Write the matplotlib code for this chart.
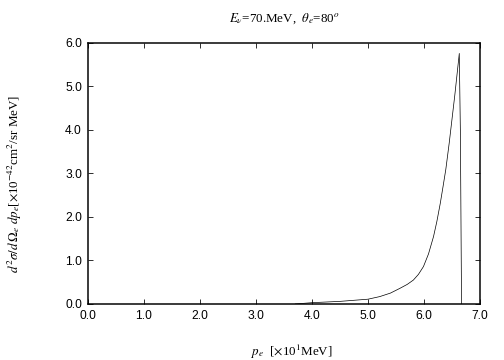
import matplotlib
matplotlib.use("Agg")
import matplotlib.pyplot as plt
from matplotlib.ticker import FormatStrFormatter

# electron momentum [x10 MeV] and cross section [x10^-42 cm^2/sr MeV]
p_e = [3.70, 4.00, 4.50, 5.00, 5.21, 5.40, 5.57, 5.70, 5.81, 5.90, 5.99,
       6.08, 6.17, 6.23, 6.29, 6.34, 6.39, 6.45, 6.50, 6.55, 6.60, 6.63,
       6.65, 6.67]
xsec = [0.00, 0.03, 0.06, 0.11, 0.17, 0.25, 0.36, 0.45, 0.55, 0.68, 0.86,
        1.15, 1.55, 1.90, 2.31, 2.70, 3.10, 3.70, 4.25, 4.80, 5.40, 5.76,
        3.90, 0.00]

plt.rcParams['mathtext.fontset'] = 'stix'
serif = ['Liberation Serif', 'DejaVu Serif']
sans = ['Liberation Sans', 'DejaVu Sans']

fig = plt.figure(figsize=(7, 5), dpi=72)
ax = fig.add_axes([0.1746, 0.1556, 0.9524 - 0.1746, 0.8806 - 0.1556])

ax.plot(p_e, xsec, color='black', lw=0.7)

ax.set_xlim(0, 7)
ax.set_ylim(0, 6)
ax.set_xticks(range(0, 8))
ax.set_yticks(range(0, 7))
ax.xaxis.set_major_formatter(FormatStrFormatter('%.1f'))
ax.yaxis.set_major_formatter(FormatStrFormatter('%.1f'))
ax.tick_params(direction='in', top=True, right=True, length=5, width=0.8,
               labelsize=12, pad=6)
for lab in ax.get_xticklabels() + ax.get_yticklabels():
    lab.set_family(sans)
for s in ax.spines.values():
    s.set_linewidth(1.5)

fig.text(0.565, 0.948, r'$E_\nu$=70.MeV,  $\theta_e$=80$^o$',
         ha='center', va='center', fontsize=13, family=serif)
fig.text(0.58, 0.022, r'$p_e$  [$\times$10$^1$MeV]',
         ha='center', va='center', fontsize=13, family=serif)
fig.text(0.03, 0.49,
         r'$d^2\sigma/d\,\Omega_e\ dp_e$[$\times$10$^{-42}$cm$^2$/sr MeV]',
         ha='center', va='center', rotation=90, fontsize=13, family=serif)

fig.savefig('out.png', dpi=72)
